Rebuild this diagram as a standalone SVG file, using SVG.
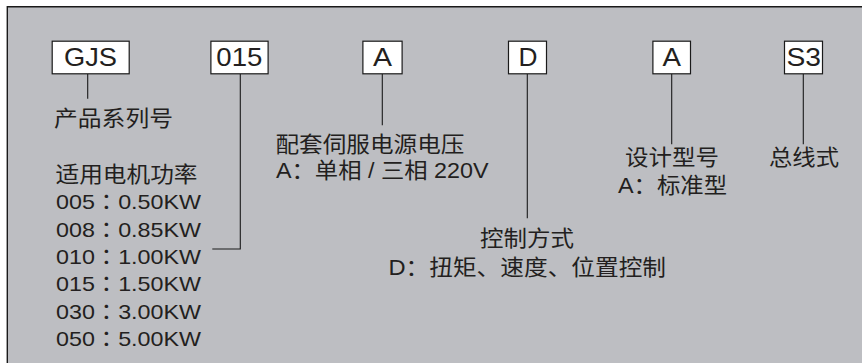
<svg xmlns="http://www.w3.org/2000/svg" width="862" height="363" viewBox="0 0 862 363">
<style>
.bg{fill:#bdbec2}
.frame{fill:none;stroke:#1a1a1a;stroke-width:1.4}
.box{fill:#ffffff;stroke:#1a1a1a;stroke-width:1.2}
.code{font-family:"Liberation Sans",Arial,sans-serif;font-size:25px;fill:#231f20;text-anchor:middle}
.lbl{font-family:"Liberation Sans","Noto Sans CJK SC",sans-serif;font-size:21.5px;fill:#231f20}
.row{font-family:"Liberation Sans","Noto Sans CJK JP",sans-serif;font-size:21px;fill:#231f20}
.conn{fill:none;stroke:#1a1a1a;stroke-width:1.1}
</style>
<rect class="bg" x="7" y="6.5" width="856" height="357"/>
<path class="frame" d="M7.3,363 V6.7 H862"/>

<g id="connectors">
<path class="conn" d="M87.7,74 V98.7"/>
<path class="conn" d="M240.3,74 V249 H212.3"/>
<path class="conn" d="M382.3,74 V125.3"/>
<path class="conn" d="M527.3,74 V218.3"/>
<path class="conn" d="M671.7,74 V144.3"/>
<path class="conn" d="M803.3,74 V144.3"/>
</g>

<g id="node-gjs">
<rect class="box" x="52.2" y="41.2" width="77" height="32.6"/>
<text class="code" x="90.5" y="66" textLength="53" lengthAdjust="spacingAndGlyphs">GJS</text>
</g>
<g id="node-015">
<rect class="box" x="210.9" y="41.2" width="57.2" height="32.6"/>
<text class="code" x="239.3" y="66" textLength="46" lengthAdjust="spacingAndGlyphs">015</text>
</g>
<g id="node-a1">
<rect class="box" x="362.9" y="41.2" width="39.2" height="32.6"/>
<text class="code" x="382.5" y="66" textLength="19" lengthAdjust="spacingAndGlyphs">A</text>
</g>
<g id="node-d">
<rect class="box" x="508.5" y="41.2" width="38" height="32.6"/>
<text class="code" x="528" y="66" textLength="19" lengthAdjust="spacingAndGlyphs">D</text>
</g>
<g id="node-a2">
<rect class="box" x="652.9" y="41.2" width="37.6" height="32.6"/>
<text class="code" x="671.8" y="66" textLength="18.5" lengthAdjust="spacingAndGlyphs">A</text>
</g>
<g id="node-s3">
<rect class="box" x="784.5" y="41.2" width="38" height="32.6"/>
<text class="code" x="803.7" y="66" textLength="34.5" lengthAdjust="spacingAndGlyphs">S3</text>
</g>

<g id="label-series">
<text class="lbl" x="54" y="126" textLength="119" lengthAdjust="spacingAndGlyphs">产品系列号</text>
</g>
<g id="label-power">
<text class="lbl" x="55.5" y="182" textLength="142" lengthAdjust="spacingAndGlyphs">适用电机功率</text>
<text class="row" x="56" y="209" textLength="145" lengthAdjust="spacingAndGlyphs">005：0.50KW</text>
<text class="row" x="56" y="236.5" textLength="145" lengthAdjust="spacingAndGlyphs">008：0.85KW</text>
<text class="row" x="56" y="264" textLength="145" lengthAdjust="spacingAndGlyphs">010：1.00KW</text>
<text class="row" x="56" y="291.3" textLength="145" lengthAdjust="spacingAndGlyphs">015：1.50KW</text>
<text class="row" x="56" y="318.7" textLength="145" lengthAdjust="spacingAndGlyphs">030：3.00KW</text>
<text class="row" x="56" y="346" textLength="145" lengthAdjust="spacingAndGlyphs">050：5.00KW</text>
</g>
<g id="label-voltage">
<text class="lbl" x="275.5" y="152" textLength="189" lengthAdjust="spacingAndGlyphs">配套伺服电源电压</text>
<text class="lbl" x="276" y="178.3" textLength="212.5" lengthAdjust="spacingAndGlyphs">A：单相 / 三相 220V</text>
</g>
<g id="label-control">
<text class="lbl" x="480" y="246" textLength="94" lengthAdjust="spacingAndGlyphs">控制方式</text>
<text class="lbl" x="388.5" y="275" textLength="277.5" lengthAdjust="spacingAndGlyphs">D：扭矩、速度、位置控制</text>
</g>
<g id="label-design">
<text class="lbl" x="625" y="165" textLength="94" lengthAdjust="spacingAndGlyphs">设计型号</text>
<text class="lbl" x="618" y="193.3" textLength="109" lengthAdjust="spacingAndGlyphs">A：标准型</text>
</g>
<g id="label-bus">
<text class="lbl" x="769" y="165" textLength="70" lengthAdjust="spacingAndGlyphs">总线式</text>
</g>
</svg>
